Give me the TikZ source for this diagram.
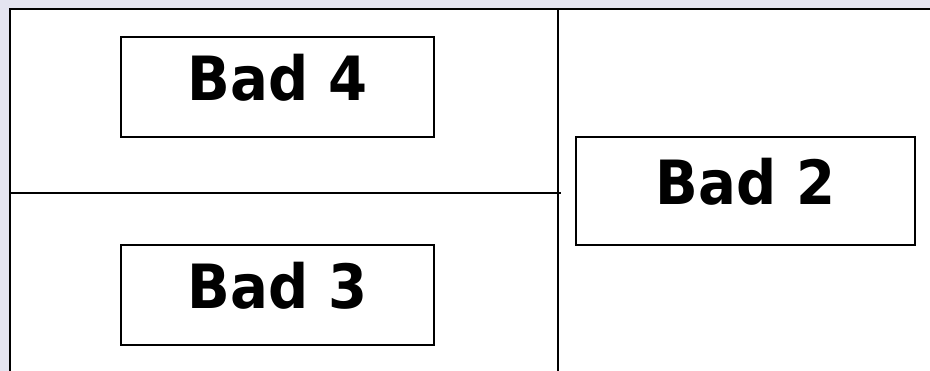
\documentclass[tikz,border=0pt]{standalone}
\usepackage{fontspec}
\setmainfont{DejaVu Sans}
\definecolor{lav}{HTML}{E4E4F0}
\begin{document}
\begin{tikzpicture}[x=1pt,y=-1pt,
  frameline/.style={line width=2.8pt,black},
  divline/.style={line width=2pt,black},
  badbox/.style={draw,line width=2pt,inner sep=0pt,text height=48pt,text depth=22pt,font=\fontsize{61}{66}\selectfont\bfseries}]
\fill[lav] (0,0) rectangle (930,371);
\useasboundingbox (0,0) rectangle (930,371);
\fill[white] (10,9) rectangle (930,371);
\coordinate (tl) at (10,9);
\coordinate (tr) at (930,9);
\coordinate (bl) at (10,371);
\coordinate (vt) at (558,9);
\coordinate (vb) at (558,371);
\coordinate (hl) at (10,193);
\coordinate (hr) at (561,193);
\draw[frameline] (bl) -- (tl) -- (tr);
\draw[divline] (vt) -- (vb);
\draw[divline] (hl) -- (hr);
\node[badbox,minimum width=313pt,minimum height=100pt] (b4) at (277.5,87.5) {\scalebox{0.92}[1]{Bad 4}};
\node[badbox,minimum width=313pt,minimum height=100pt] (b3) at (277.5,295.5) {\scalebox{0.92}[1]{Bad 3}};
\node[badbox,minimum width=339pt,minimum height=108pt] (b2) at (745.5,191.5) {\scalebox{0.92}[1]{Bad 2}};
\end{tikzpicture}
\end{document}
